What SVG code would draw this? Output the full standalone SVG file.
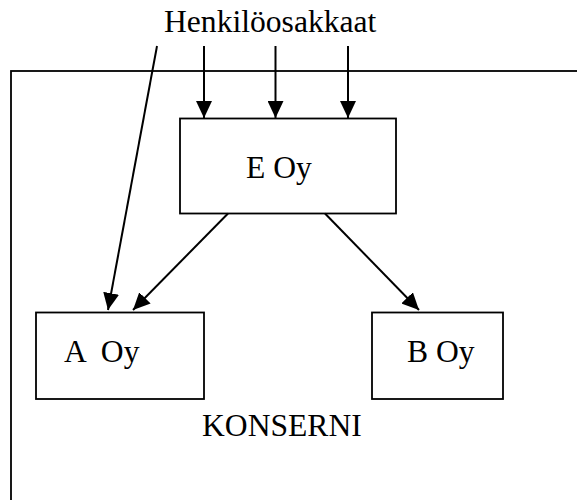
<svg xmlns="http://www.w3.org/2000/svg" width="577" height="500" viewBox="0 0 577 500">
  <style>
    .box { fill: #ffffff; stroke: #000000; stroke-width: 1.8; }
    .lbl { font-family: "Liberation Serif", "Times New Roman", serif; font-size: 31.6px; fill: #000000; white-space: pre; }
    .edge { stroke: #000000; stroke-width: 2; fill: none; marker-end: url(#head); }
  </style>
  <defs>
    <marker id="head" markerUnits="userSpaceOnUse" markerWidth="17" markerHeight="16" refX="17" refY="8" orient="auto" viewBox="0 0 17 16">
      <path d="M0,0 L17,8 L0,16 Z" fill="#000000"/>
    </marker>
  </defs>

  <rect fill="#ffffff" width="577" height="500"/>

  <!-- group boundary (continues past the right and bottom edges) -->
  <g id="konserni">
    <rect class="box" x="11" y="71" width="580" height="450" fill="none"/>
    <text class="lbl" x="202" y="436">KONSERNI</text>
  </g>

  <g id="henkiloosakkaat">
    <text class="lbl" x="164" y="32">Henkilöosakkaat</text>
  </g>

  <g id="e-oy">
    <rect class="box" x="180" y="118.5" width="216" height="95"/>
    <text class="lbl" x="246" y="178">E Oy</text>
  </g>

  <g id="a-oy">
    <rect class="box" x="36" y="312.5" width="168" height="86.5"/>
    <text class="lbl" x="64" y="362">A  Oy</text>
  </g>

  <g id="b-oy">
    <rect class="box" x="372" y="312.5" width="131" height="86.5"/>
    <text class="lbl" x="407" y="362">B Oy</text>
  </g>

  <g id="connectors">
    <line class="edge" x1="204" y1="46" x2="204" y2="118"/>
    <line class="edge" x1="275.5" y1="46" x2="275.5" y2="118"/>
    <line class="edge" x1="348" y1="46" x2="348" y2="118"/>
    <line class="edge" x1="157" y1="46" x2="108" y2="310"/>
    <line class="edge" x1="228" y1="213.5" x2="133" y2="310"/>
    <line class="edge" x1="325" y1="213.5" x2="419" y2="310"/>
  </g>
</svg>
